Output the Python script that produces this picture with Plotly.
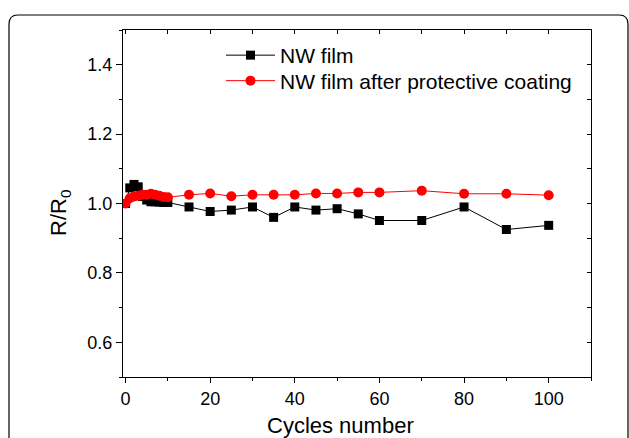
import plotly.graph_objects as go

# Data
cycles = [0, 1, 2, 3, 4, 5, 6, 7, 8, 9, 10, 15, 20, 25, 30, 35, 40, 45, 50, 55, 60, 70, 80, 90, 100]
nw_film = [1.000, 1.045, 1.055, 1.048, 1.020, 1.010, 1.005, 1.005, 1.004, 1.003, 1.003,
           0.990, 0.977, 0.981, 0.990, 0.960, 0.990, 0.981, 0.985, 0.970, 0.951, 0.951,
           0.990, 0.925, 0.937]
nw_coated = [1.000, 1.015, 1.020, 1.022, 1.025, 1.025, 1.028, 1.025, 1.022, 1.019, 1.018,
             1.025, 1.029, 1.021, 1.025, 1.025, 1.025, 1.029, 1.029, 1.032, 1.032, 1.037,
             1.028, 1.028, 1.024]
series_names = ["NW film", "NW film after protective coating"]
x_ticks = [0, 20, 40, 60, 80, 100]
y_ticks = [0.6, 0.8, 1.0, 1.2, 1.4]

W, H = 629, 438
L, R, T, B = 123, 38, 30, 61
pw, ph = W - L - R, H - T - B

def px_x(p):
    return (p - L) / pw

def px_y(p):
    return (H - B - p) / ph

FONT = "Liberation Sans, Arial, sans-serif"

fig = go.Figure()
fig.add_trace(go.Scatter(
    x=cycles, y=nw_film, name=series_names[0], mode="lines+markers",
    line=dict(color="black", width=1),
    marker=dict(symbol="square", size=9, color="black"),
    legend="legend",
))
fig.add_trace(go.Scatter(
    x=cycles, y=nw_coated, name=series_names[1], mode="lines+markers",
    line=dict(color="#FF0000", width=1),
    marker=dict(symbol="circle", size=10, color="#FF0000"),
    legend="legend2",
))
# invisible trace to carry the mirrored (top/right) axes
fig.add_trace(go.Scatter(
    x=[cycles[0]], y=[nw_film[0]], xaxis="x2", yaxis="y2", mode="markers",
    marker=dict(opacity=0), showlegend=False, hoverinfo="skip",
))

axis_common = dict(showgrid=False, zeroline=False, showline=True,
                   linecolor="black", linewidth=1, tickcolor="black", tickwidth=1)

legend_common = dict(xanchor="left", yanchor="top", bgcolor="rgba(0,0,0,0)",
                     font=dict(size=21), itemwidth=49)

fig.update_layout(
    width=W, height=H,
    margin=dict(l=L, r=R, t=T, b=B),
    paper_bgcolor="white", plot_bgcolor="white",
    font=dict(family=FONT, size=18, color="black"),
    xaxis=dict(range=[-0.6, 110], tickvals=x_ticks, ticks="outside", ticklen=5,
               minor=dict(ticks="outside", ticklen=3, dtick=10, tick0=0, tickcolor="black"),
               tickfont=dict(size=18), **axis_common),
    yaxis=dict(range=[0.5, 1.5], tickvals=y_ticks, tickformat=".1f", ticks="outside",
               ticklen=6, minor=dict(ticks="outside", ticklen=3, dtick=0.1, tick0=0.5,
                                     tickcolor="black"),
               tickfont=dict(size=18), **axis_common),
    xaxis2=dict(overlaying="x", side="top", matches="x", ticks="inside", ticklen=4,
                dtick=10, tick0=0, showticklabels=False, **axis_common),
    yaxis2=dict(overlaying="y", side="right", matches="y", ticks="inside", ticklen=4,
                dtick=0.1, tick0=0.5, showticklabels=False, **axis_common),
    legend=dict(x=px_x(221), y=px_y(35), **legend_common),
    legend2=dict(x=px_x(221), y=px_y(60.5), **legend_common),
    showlegend=True,
)

fig.add_annotation(text="Cycles number", xref="paper", yref="paper",
                   x=px_x(340.5), y=px_y(425), showarrow=False,
                   font=dict(size=22), xanchor="center", yanchor="middle")
fig.add_annotation(text="R/R<sub>0</sub>", xref="paper", yref="paper",
                   x=px_x(60), y=px_y(213), showarrow=False, textangle=-90,
                   font=dict(size=22), xanchor="center", yanchor="middle")

# outer rounded frame
r = 9
x0, y0, x1, y1 = 9, 15, 628, 470
path = (f"M {px_x(x0)},{px_y(y1)} L {px_x(x0)},{px_y(y0 + r)} "
        f"Q {px_x(x0)},{px_y(y0)} {px_x(x0 + r)},{px_y(y0)} "
        f"L {px_x(x1 - r)},{px_y(y0)} "
        f"Q {px_x(x1)},{px_y(y0)} {px_x(x1)},{px_y(y0 + r)} "
        f"L {px_x(x1)},{px_y(y1)}")
fig.add_shape(type="path", path=path, xref="paper", yref="paper",
              line=dict(color="black", width=1.2), layer="above")

fig.write_html("out.html", config={"displayModeBar": False},
               post_script="document.body.style.margin='0';document.body.style.overflow='hidden';")
